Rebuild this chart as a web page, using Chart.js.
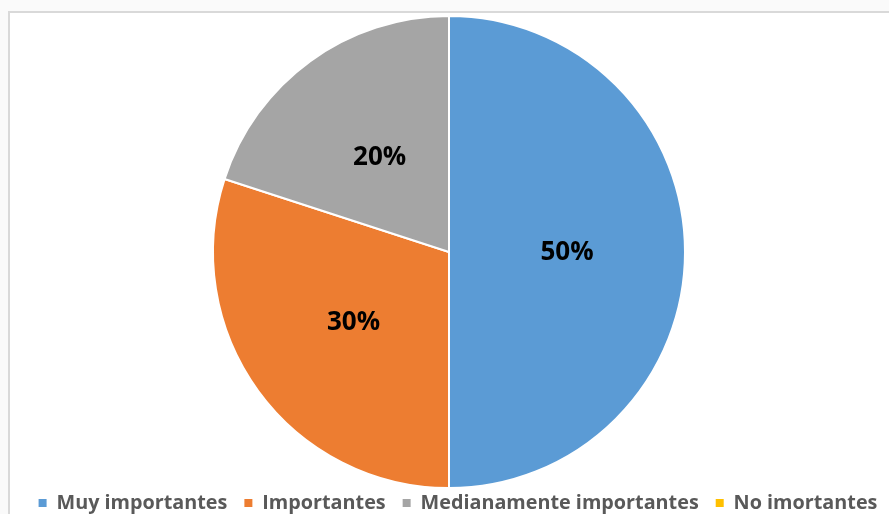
<!DOCTYPE html>
<html>
<head>
<meta charset="utf-8">
<script src="https://cdn.jsdelivr.net/npm/chart.js@4/dist/chart.umd.min.js"></script>
<style>
  html, body { margin: 0; padding: 0; background: #fafafa; }
  #wrap { position: relative; width: 889px; height: 514px; overflow: hidden; }
  #frame { position: absolute; left: 8px; top: 11px; width: 900px; height: 520px;
           background: #fff; border-left: 2px solid #d9d9d9; border-top: 2px solid #d9d9d9; }
  #chart { position: absolute; left: 0; top: 0; }
</style>
</head>
<body>
<div id="wrap">
  <div id="frame"></div>
  <canvas id="chart" width="889" height="514"></canvas>
</div>
<script>
// Дані діаграми
const categories = ['Muy importantes', 'Importantes', 'Medianamente importantes', 'No imortantes'];
const percentValues = [50, 30, 20, 0];
const sliceColors = ['#5b9bd5', '#ed7d31', '#a5a5a5', '#ffc000'];

// Підписи відсотків у центрі кожного сектора
const percentLabels = {
  id: 'percentLabels',
  afterLayout(chart) {
    // легенда трохи ближче до кола і трохи правіше
    const lg = chart.legend;
    lg.top -= 13;
    lg.bottom -= 13;
    lg.left += 9;
    lg.right += 9;
  },
  afterDatasetsDraw(chart) {
    const ctx = chart.ctx;
    const meta = chart.getDatasetMeta(0);
    ctx.save();
    ctx.font = 'bold 26px "Open Sans"';
    ctx.fillStyle = '#000';
    ctx.textAlign = 'center';
    ctx.textBaseline = 'middle';
    meta.data.forEach((arc, i) => {
      const v = chart.data.datasets[0].data[i];
      if (!v) return;
      const p = arc.tooltipPosition();
      ctx.fillText(v + '%', p.x, p.y + 1);
    });
    ctx.restore();
  }
};

new Chart('chart', {
  type: 'pie',
  data: {
    labels: categories,
    datasets: [{
      data: percentValues,
      backgroundColor: sliceColors,
      borderColor: '#fff',
      borderWidth: 2
    }]
  },
  options: {
    responsive: false,
    animation: false,
    layout: { padding: { left: 9, right: 0, top: 15, bottom: -21.8 } },
    plugins: {
      tooltip: { enabled: false },
      legend: {
        position: 'bottom',
        labels: {
          boxWidth: 8,
          boxHeight: 8,
          padding: 17,
          color: '#595959',
          font: { family: 'Open Sans', size: 19.8, weight: 'bold' },
          generateLabels(chart) {
            const items = Chart.overrides.pie.plugins.legend.labels.generateLabels(chart);
            items.forEach(it => { it.lineWidth = 0; it.hidden = false; });
            return items;
          }
        }
      }
    }
  },
  plugins: [percentLabels]
});
</script>
</body>
</html>
